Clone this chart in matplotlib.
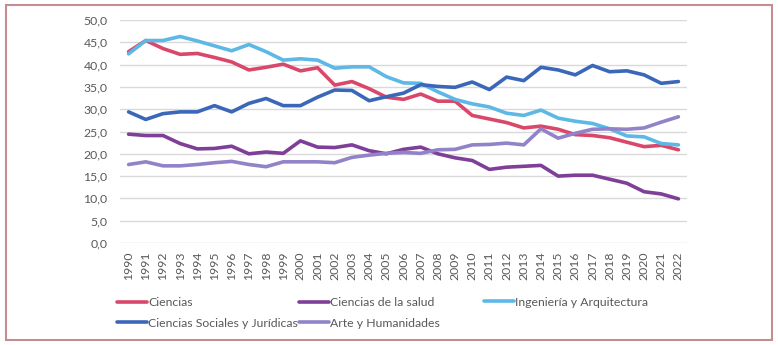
import matplotlib.pyplot as plt
import numpy as np
from matplotlib.patches import Rectangle

# datos (% por rama)
years = list(range(1990, 2023))
ciencias = [42.9, 45.4, 43.6, 42.3, 42.5, 41.6, 40.6, 38.8, 39.4, 40.1, 38.6, 39.3,
            35.4, 36.2, 34.6, 32.7, 32.2, 33.4, 31.8, 31.8, 28.6, 27.8, 27.0, 25.8,
            26.2, 25.5, 24.3, 24.1, 23.6, 22.6, 21.6, 21.9, 20.9]
salud = [24.4, 24.1, 24.1, 22.3, 21.1, 21.2, 21.7, 20.0, 20.4, 20.1, 22.9, 21.5,
         21.4, 22.0, 20.7, 20.0, 21.0, 21.5, 20.0, 19.1, 18.5, 16.5, 17.0, 17.2,
         17.4, 15.0, 15.2, 15.2, 14.3, 13.4, 11.5, 11.0, 9.9]
ingenieria = [42.4, 45.4, 45.4, 46.3, 45.3, 44.2, 43.1, 44.5, 42.9, 41.0, 41.3, 41.0,
              39.2, 39.5, 39.5, 37.3, 35.9, 35.8, 33.9, 32.2, 31.2, 30.5, 29.1, 28.6,
              29.8, 28.0, 27.3, 26.8, 25.6, 24.0, 23.8, 22.3, 22.0]
sociales = [29.4, 27.7, 29.0, 29.4, 29.4, 30.8, 29.4, 31.3, 32.4, 30.8, 30.8, 32.7,
            34.3, 34.2, 31.9, 32.8, 33.6, 35.5, 35.1, 34.9, 36.1, 34.4, 37.2, 36.4,
            39.4, 38.8, 37.7, 39.8, 38.4, 38.6, 37.7, 35.8, 36.2]
arte = [17.6, 18.2, 17.3, 17.3, 17.6, 18.0, 18.3, 17.6, 17.1, 18.2, 18.2, 18.2,
        18.0, 19.2, 19.7, 20.1, 20.3, 20.1, 20.9, 21.0, 22.0, 22.1, 22.4, 22.0,
        25.6, 23.5, 24.6, 25.5, 25.6, 25.5, 25.8, 27.1, 28.3]

series = [
    ("Ciencias", ciencias, "#d9486b"),
    ("Ciencias de la salud", salud, "#7f3f98"),
    ("Ingeniería y Arquitectura", ingenieria, "#5db8e6"),
    ("Ciencias Sociales y Jurídicas", sociales, "#3b67b9"),
    ("Arte y Humanidades", arte, "#9283c9"),
]

plt.rcParams['font.family'] = ['Lato', 'DejaVu Sans']
txt = "#595959"
fs = 8.8

fig = plt.figure(figsize=(7.78, 3.45), dpi=100)
ax = fig.add_axes([120 / 778, 1 - 243 / 345, 567 / 778, 223 / 345])

lines = {}
for name, vals, col in series:
    ln, = ax.plot(years, vals, color=col, lw=2.6, solid_capstyle="round",
                  solid_joinstyle="round", label=name)
    lines[name] = ln

ax.set_ylim(0, 50)
ax.set_xlim(1989.5, 2022.5)
ax.set_yticks(np.arange(0, 51, 5))
ax.set_yticklabels([f"{v:.1f}".replace(".", ",") for v in np.arange(0, 51, 5)])
ax.set_xticks(years)
ax.set_xticklabels([str(y) for y in years], rotation=90)
ax.tick_params(axis="both", length=0, labelsize=fs, colors=txt)
ax.tick_params(axis="y", pad=9)
ax.tick_params(axis="x", pad=6)
ax.grid(axis="y", color="#d9d9d9", lw=1)
ax.set_axisbelow(True)
for s in ax.spines.values():
    s.set_visible(False)

# leyenda en tres columnas de igual ancho
cols = [
    (["Ciencias", "Ciencias Sociales y Jurídicas"], 117, 313),
    (["Ciencias de la salud", "Arte y Humanidades"], 299, 313),
    (["Ingeniería y Arquitectura"], 484, 302),
]
for names, x, y in cols:
    fig.legend([lines[n] for n in names], names, loc="center left",
               bbox_to_anchor=(x / 778, 1 - y / 345), frameon=False,
               borderpad=0, borderaxespad=0, handlelength=2.45,
               handletextpad=0.12, labelspacing=0.78, fontsize=fs,
               labelcolor=txt)

# marco
fig.patches.append(Rectangle((6 / 778, 5 / 345), 765.5 / 778, 335 / 345,
                             transform=fig.transFigure, fill=False,
                             edgecolor="#c38d92", lw=1.5))

fig.savefig("out.png", dpi=100)
